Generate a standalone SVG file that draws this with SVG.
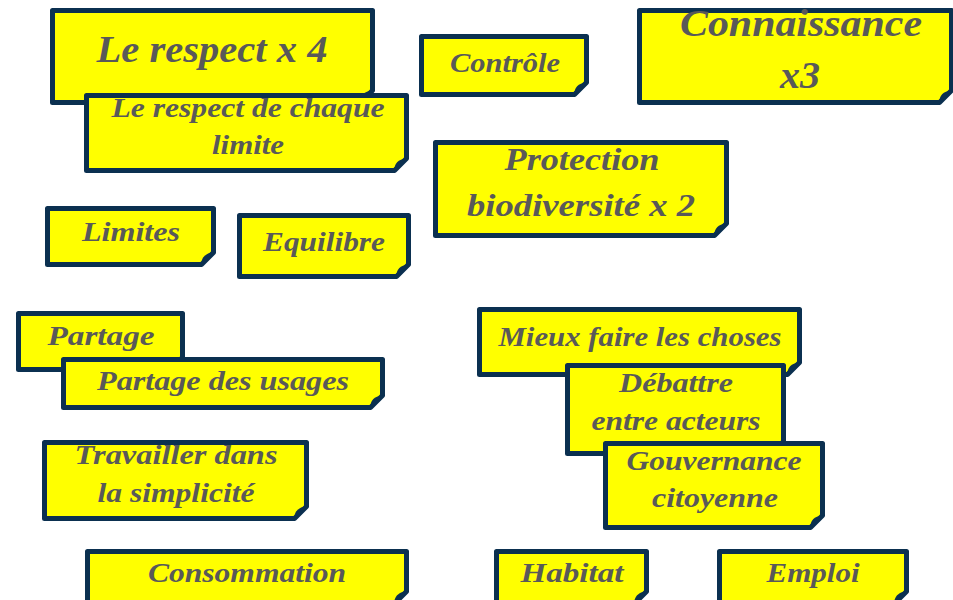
<svg xmlns="http://www.w3.org/2000/svg" width="953" height="600" viewBox="0 0 953 600">
<style>
.note{fill:#ffff00;stroke:#0b3050;stroke-width:5;stroke-linejoin:round}
.fold{fill:#0b3050}
text{font-family:"Liberation Serif","DejaVu Serif",serif;font-style:italic;font-weight:bold;fill:#595959;text-anchor:middle}
.s{font-size:27px}
.m{font-size:31px}
.l{font-size:37px}
</style>
<rect width="953" height="600" fill="#ffffff"/>
<g id="n-respect4">
<path class="note" d="M52.5,10.5 H372.5 V90.5 L360.5,102.5 H52.5 Z"/>
<path class="fold" d="M372.5,90.5 L360.5,102.5 C360,96 364,91 372.5,90.5 Z"/>
<text class="l" x="212" y="62" textLength="231" lengthAdjust="spacingAndGlyphs">Le respect x 4</text>
</g>
<g id="n-respect-limite">
<path class="note" d="M86.5,95.5 H406.5 V158.5 L394.5,170.5 H86.5 Z"/>
<path class="fold" d="M406.5,158.5 L394.5,170.5 C394,164 398,159 406.5,158.5 Z"/>
<text class="s" x="248" y="117" textLength="273" lengthAdjust="spacingAndGlyphs">Le respect de chaque</text>
<text class="s" x="248" y="154" textLength="72" lengthAdjust="spacingAndGlyphs">limite</text>
</g>
<g id="n-controle">
<path class="note" d="M421.5,36.5 H586.5 V82.5 L574.5,94.5 H421.5 Z"/>
<path class="fold" d="M586.5,82.5 L574.5,94.5 C574,88 578,83 586.5,82.5 Z"/>
<text class="s" x="505" y="72" textLength="110" lengthAdjust="spacingAndGlyphs">Contrôle</text>
</g>
<g id="n-connaissance">
<path class="note" d="M639.5,10.5 H951.5 V90.5 L939.5,102.5 H639.5 Z"/>
<path class="fold" d="M951.5,90.5 L939.5,102.5 C939,96 943,91 951.5,90.5 Z"/>
<text class="l" x="801" y="36" textLength="242" lengthAdjust="spacingAndGlyphs">Connaissance</text>
<text class="l" x="800" y="88" textLength="40" lengthAdjust="spacingAndGlyphs">x3</text>
</g>
<g id="n-protection">
<path class="note" d="M435.5,142.5 H726.5 V223.5 L714.5,235.5 H435.5 Z"/>
<path class="fold" d="M726.5,223.5 L714.5,235.5 C714,229 718,224 726.5,223.5 Z"/>
<text class="m" x="582" y="170" textLength="155" lengthAdjust="spacingAndGlyphs">Protection</text>
<text class="m" x="581" y="216" textLength="228" lengthAdjust="spacingAndGlyphs">biodiversité x 2</text>
</g>
<g id="n-limites">
<path class="note" d="M47.5,208.5 H213.5 V252.5 L201.5,264.5 H47.5 Z"/>
<path class="fold" d="M213.5,252.5 L201.5,264.5 C201,258 205,253 213.5,252.5 Z"/>
<text class="s" x="131" y="241" textLength="98" lengthAdjust="spacingAndGlyphs">Limites</text>
</g>
<g id="n-equilibre">
<path class="note" d="M239.5,215.5 H408.5 V264.5 L396.5,276.5 H239.5 Z"/>
<path class="fold" d="M408.5,264.5 L396.5,276.5 C396,270 400,265 408.5,264.5 Z"/>
<text class="s" x="324" y="251" textLength="122" lengthAdjust="spacingAndGlyphs">Equilibre</text>
</g>
<g id="n-partage">
<path class="note" d="M18.5,313.5 H182.5 V357.5 L170.5,369.5 H18.5 Z"/>
<text class="s" x="101" y="345" textLength="107" lengthAdjust="spacingAndGlyphs">Partage</text>
</g>
<g id="n-partage-usages">
<path class="note" d="M63.5,359.5 H382.5 V395.5 L370.5,407.5 H63.5 Z"/>
<path class="fold" d="M382.5,395.5 L370.5,407.5 C370,401 374,396 382.5,395.5 Z"/>
<text class="s" x="223" y="390" textLength="252" lengthAdjust="spacingAndGlyphs">Partage des usages</text>
</g>
<g id="n-travailler">
<path class="note" d="M44.5,442.5 H306.5 V506.5 L294.5,518.5 H44.5 Z"/>
<path class="fold" d="M306.5,506.5 L294.5,518.5 C294,512 298,507 306.5,506.5 Z"/>
<text class="s" x="176" y="464" textLength="203" lengthAdjust="spacingAndGlyphs">Travailler dans</text>
<text class="s" x="176" y="502" textLength="157" lengthAdjust="spacingAndGlyphs">la simplicité</text>
</g>
<g id="n-consommation">
<path class="note" d="M87.5,551.5 H406.5 V591.5 L394.5,603.5 H87.5 Z"/>
<path class="fold" d="M406.5,591.5 L394.5,603.5 C394,597 398,592 406.5,591.5 Z"/>
<text class="s" x="247" y="582" textLength="198" lengthAdjust="spacingAndGlyphs">Consommation</text>
</g>
<g id="n-mieux">
<path class="note" d="M479.5,309.5 H799.5 V362.5 L787.5,374.5 H479.5 Z"/>
<path class="fold" d="M799.5,362.5 L787.5,374.5 C787,368 791,363 799.5,362.5 Z"/>
<text class="s" x="640" y="346" textLength="283" lengthAdjust="spacingAndGlyphs">Mieux faire les choses</text>
</g>
<g id="n-debattre">
<path class="note" d="M567.5,365.5 H783.5 V441.5 L771.5,453.5 H567.5 Z"/>
<path class="fold" d="M783.5,441.5 L771.5,453.5 C771,447 775,442 783.5,441.5 Z"/>
<text class="s" x="676" y="392" textLength="114" lengthAdjust="spacingAndGlyphs">Débattre</text>
<text class="s" x="676" y="430" textLength="169" lengthAdjust="spacingAndGlyphs">entre acteurs</text>
</g>
<g id="n-gouvernance">
<path class="note" d="M605.5,443.5 H822.5 V515.5 L810.5,527.5 H605.5 Z"/>
<path class="fold" d="M822.5,515.5 L810.5,527.5 C810,521 814,516 822.5,515.5 Z"/>
<text class="s" x="714" y="470" textLength="175" lengthAdjust="spacingAndGlyphs">Gouvernance</text>
<text class="s" x="715" y="507" textLength="126" lengthAdjust="spacingAndGlyphs">citoyenne</text>
</g>
<g id="n-habitat">
<path class="note" d="M496.5,551.5 H646.5 V591.5 L634.5,603.5 H496.5 Z"/>
<path class="fold" d="M646.5,591.5 L634.5,603.5 C634,597 638,592 646.5,591.5 Z"/>
<text class="s" x="572" y="582" textLength="103" lengthAdjust="spacingAndGlyphs">Habitat</text>
</g>
<g id="n-emploi">
<path class="note" d="M719.5,551.5 H906.5 V591.5 L894.5,603.5 H719.5 Z"/>
<path class="fold" d="M906.5,591.5 L894.5,603.5 C894,597 898,592 906.5,591.5 Z"/>
<text class="s" x="813" y="582" textLength="93" lengthAdjust="spacingAndGlyphs">Emploi</text>
</g>
<g id="connectors"></g>
</svg>
